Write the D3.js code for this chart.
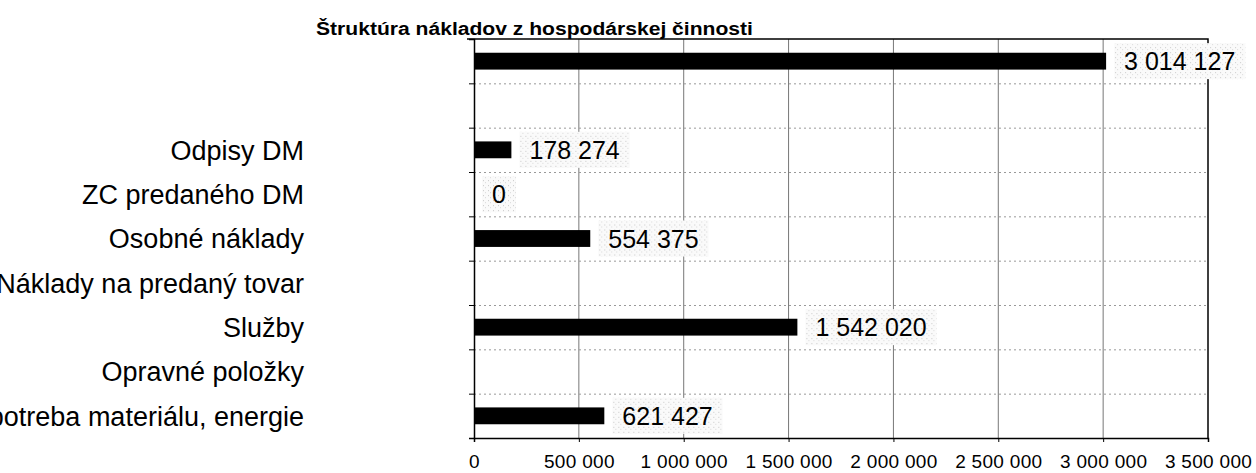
<!DOCTYPE html>
<html lang="sk">
<head>
  <meta charset="UTF-8">
  <title>Štruktúra nákladov z hospodárskej činnosti</title>
  <script src="https://d3js.org/d3.v7.min.js"></script>
  <style>
    * { padding: 0; margin: 0; box-sizing: border-box; }
    body { background: #fff; overflow: hidden; }
    svg { display: block; font-family: "Liberation Sans", Arial, sans-serif; }
  </style>
</head>
<body>
  <div id="container"></div>
  <script>
    // data (top row first, as in the picture)
    const categories = ["", "", "Odpisy DM", "ZC predaného DM", "Osobné náklady",
      "Náklady na predaný tovar", "Služby", "Opravné položky", "Spotreba materiálu, energie"];
    const values = [3014127, null, 178274, 0, 554375, null, 1542020, null, 621427];
    const xTicks = [0, 500000, 1000000, 1500000, 2000000, 2500000, 3000000, 3500000];
    const title = "Štruktúra nákladov z hospodárskej činnosti";

    const width = 1256, height = 473;
    const margin = { top: 39, right: 48, bottom: 35, left: 474 };

    const fmt = v => d3.format(",")(v).replace(/,/g, " ");

    const svg = d3.select("#container").append("svg")
      .attr("width", width)
      .attr("height", height);

    // speckled label background like the scanned original
    const pat = svg.append("defs").append("pattern")
      .attr("id", "speck").attr("width", 5).attr("height", 5)
      .attr("patternUnits", "userSpaceOnUse");
    pat.append("rect").attr("width", 5).attr("height", 5).attr("fill", "#fafafa");
    pat.append("rect").attr("x", 1).attr("y", 1).attr("width", 1).attr("height", 1).attr("fill", "#c8c8c8");
    pat.append("rect").attr("x", 3).attr("y", 3).attr("width", 1).attr("height", 1).attr("fill", "#d8d8d8");

    const x = d3.scaleLinear()
      .domain([0, 3500000])
      .range([margin.left, width - margin.right]);

    const y = d3.scaleBand()
      .domain(d3.range(categories.length))
      .range([margin.top, height - margin.bottom])
      .paddingInner(0.62)
      .paddingOuter(0.31);

    const yEdge = d3.scaleLinear()
      .domain([0, categories.length])
      .range([margin.top, height - margin.bottom]);

    // vertical grid
    svg.append("g")
      .selectAll("line")
      .data(xTicks.slice(1, -1))
      .join("line")
      .attr("x1", d => x(d)).attr("x2", d => x(d))
      .attr("y1", margin.top).attr("y2", height - margin.bottom)
      .attr("stroke", "#777").attr("stroke-width", 1);

    // horizontal dotted grid at category boundaries
    svg.append("g")
      .selectAll("line")
      .data(d3.range(1, categories.length))
      .join("line")
      .attr("x1", margin.left).attr("x2", width - margin.right)
      .attr("y1", d => yEdge(d) + 0.5).attr("y2", d => yEdge(d) + 0.5)
      .attr("stroke", "#999").attr("stroke-width", 1)
      .attr("stroke-dasharray", "2,3");

    // frame: top & right
    svg.append("path")
      .attr("d", `M${margin.left - 7},${margin.top}H${width - margin.right}V${height - margin.bottom}`)
      .attr("fill", "none").attr("stroke", "#000").attr("stroke-width", 1.5);

    // bars
    svg.append("g")
      .selectAll("rect")
      .data(values.map((v, i) => ({ v, i })).filter(d => d.v !== null))
      .join("rect")
      .attr("x", x(0))
      .attr("y", d => y(d.i))
      .attr("width", d => x(d.v) - x(0))
      .attr("height", y.bandwidth())
      .attr("fill", "#000");

    // value labels
    const lab = svg.append("g")
      .selectAll("g")
      .data(values.map((v, i) => ({ v, i })).filter(d => d.v !== null))
      .join("g")
      .attr("transform", d => `translate(${x(d.v) + 18},${y(d.i) + y.bandwidth() / 2})`);
    lab.append("rect")
      .attr("x", -10).attr("y", -18)
      .attr("height", 36)
      .attr("fill", "url(#speck)");
    lab.append("text")
      .attr("dy", "0.36em")
      .attr("font-size", 25)
      .attr("fill", "#000")
      .text(d => fmt(d.v))
      .each(function () {
        const w = this.getComputedTextLength();
        d3.select(this.parentNode).select("rect").attr("width", w + 20);
      });

    // x axis
    const xAxis = svg.append("g")
      .attr("transform", `translate(0,${height - margin.bottom})`)
      .call(d3.axisBottom(x).tickValues(xTicks).tickFormat(fmt).tickSize(4).tickPadding(13));
    xAxis.select(".domain").attr("stroke", "#000").attr("stroke-width", 1.5);
    xAxis.selectAll("text").attr("font-size", 19).attr("fill", "#000")
      .attr("letter-spacing", 0.3)
      .attr("font-family", "'Liberation Sans', Arial, sans-serif");

    // y axis (ticks at category boundaries)
    const yAxis = svg.append("g")
      .attr("transform", `translate(${margin.left},0)`)
      .call(d3.axisLeft(yEdge).tickValues(d3.range(0, categories.length + 1)).tickSize(5).tickFormat(""));
    yAxis.select(".domain").attr("stroke", "#000").attr("stroke-width", 1.5);

    // category labels (the longest are cut by the left edge, as in the original)
    svg.append("g")
      .selectAll("text")
      .data(categories.map((c, i) => ({ c, i })))
      .join("text")
      .attr("x", 304)
      .attr("y", d => y(d.i) + y.bandwidth() / 2)
      .attr("dy", "0.36em")
      .attr("text-anchor", "end")
      .attr("font-size", 27)
      .attr("fill", "#000")
      .text(d => d.c);

    // title, sitting on the top frame line
    svg.append("text")
      .attr("transform", "translate(316,35) scale(1.11,1)")
      .attr("font-size", 19)
      .attr("font-weight", "bold")
      .attr("fill", "#000")
      .text(title);
  </script>
</body>
</html>
